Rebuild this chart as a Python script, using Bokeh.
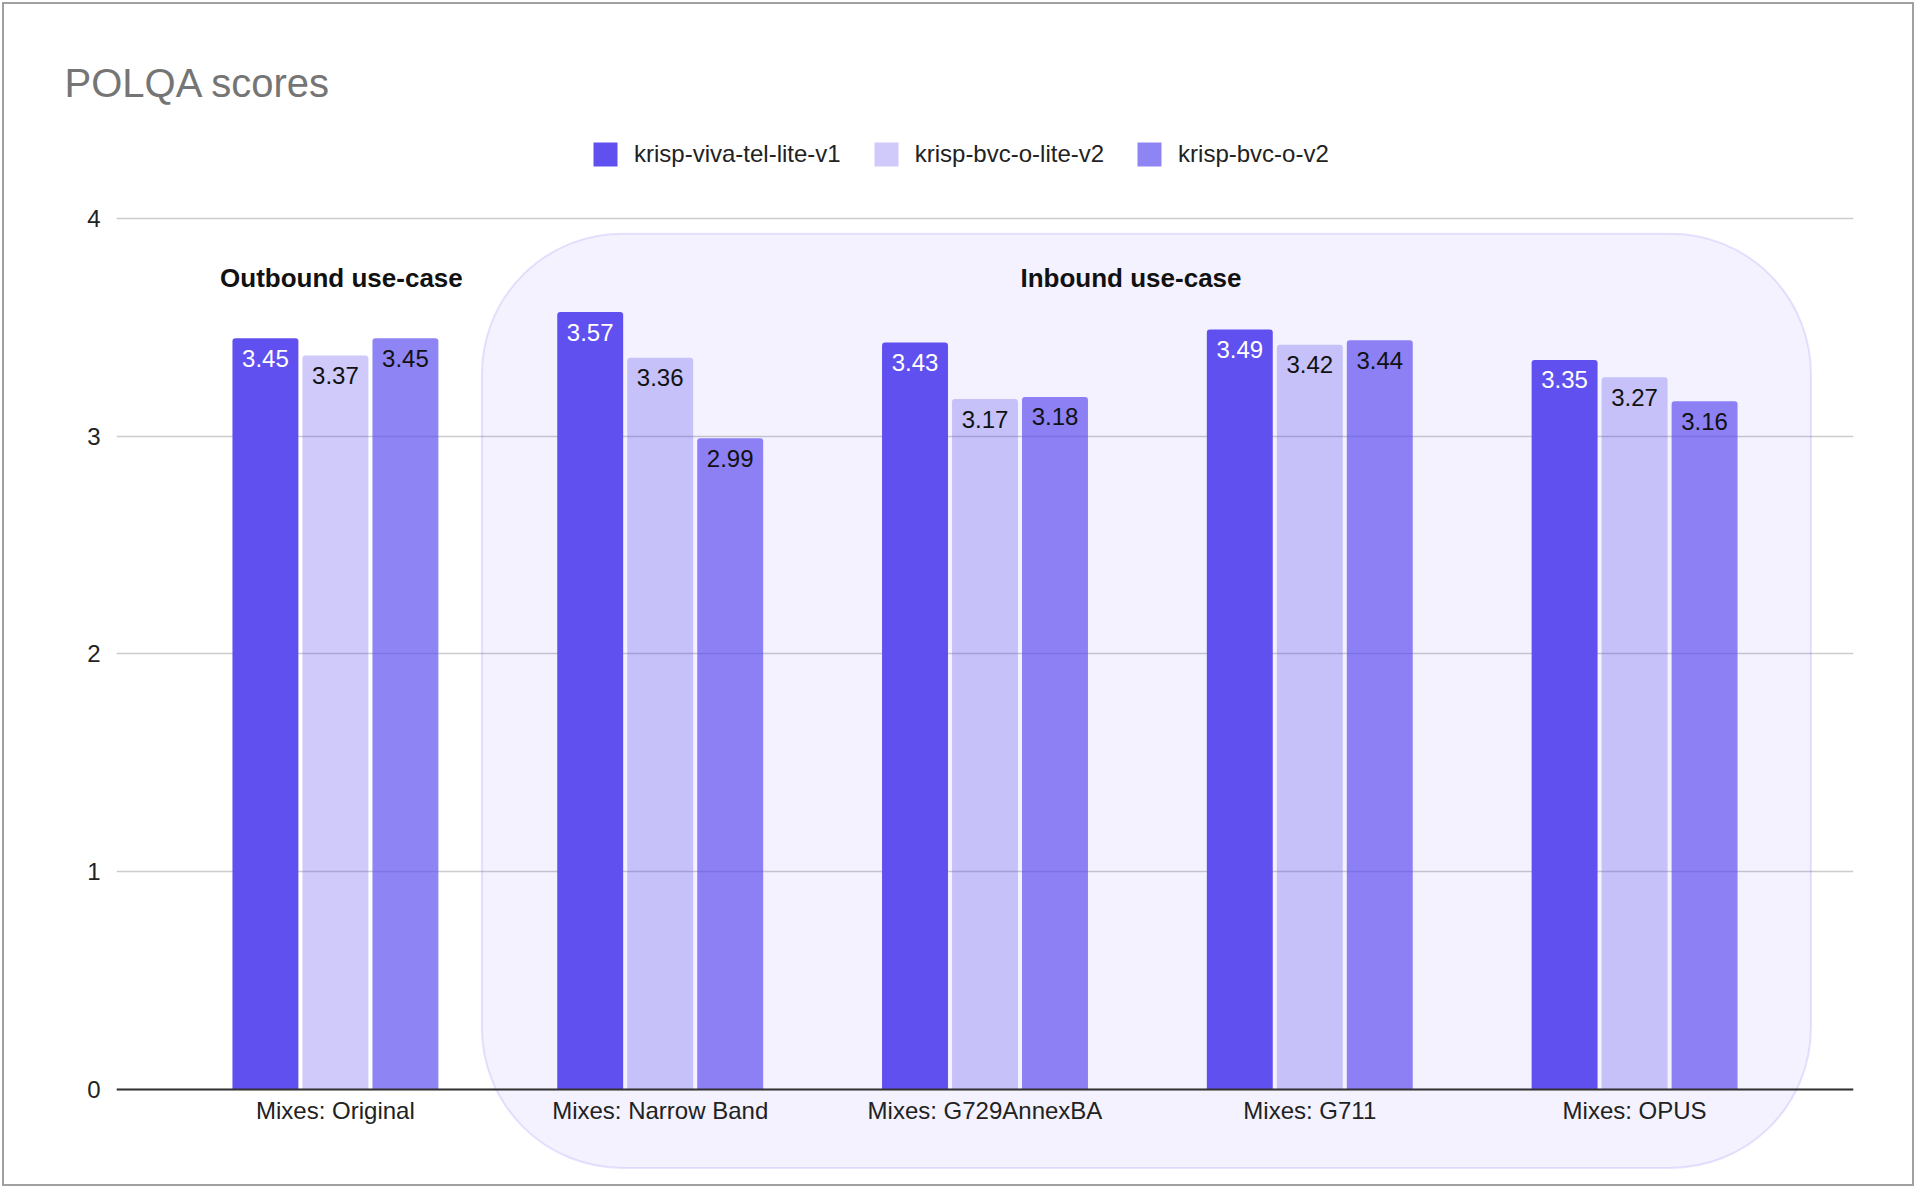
from bokeh.plotting import figure
from bokeh.models import ColumnDataSource, FactorRange, Range1d, FixedTicker, BoxAnnotation
from bokeh.transform import dodge
from bokeh.core.properties import value
from bokeh.embed import file_html
from bokeh.resources import INLINE

# ---------------- data ----------------
categories = ["Mixes: Original", "Mixes: Narrow Band", "Mixes: G729AnnexBA",
              "Mixes: G711", "Mixes: OPUS"]
series_names = ["krisp-viva-tel-lite-v1", "krisp-bvc-o-lite-v2", "krisp-bvc-o-v2"]
viva_tel_lite_v1 = [3.45, 3.57, 3.43, 3.49, 3.35]
bvc_o_lite_v2 = [3.37, 3.36, 3.17, 3.42, 3.27]
bvc_o_v2 = [3.45, 2.99, 3.18, 3.44, 3.16]
y_ticks = [0, 1, 2, 3, 4]
title_text = "POLQA scores"
group_labels = ["Outbound use-case", "Inbound use-case"]

# ---------------- style / layout ----------------
FONT = "Liberation Sans"
BASE = "#6050EF"
alphas = [1.0, 0.3, 0.7]
label_colors = ["#ffffff", "#111111", "#111111"]
offsets = [-0.2155, 0.0, 0.2155]
BAR_W = 0.203

W, H = 1916, 1188

src = ColumnDataSource(dict(
    cat=categories,
    s0=viva_tel_lite_v1, s1=bvc_o_lite_v2, s2=bvc_o_v2,
    l0=[f"{v:.2f}" for v in viva_tel_lite_v1],
    l1=[f"{v:.2f}" for v in bvc_o_lite_v2],
    l2=[f"{v:.2f}" for v in bvc_o_v2],
))

p = figure(width=W, height=H, output_backend="svg", toolbar_location=None,
           x_range=FactorRange(*categories, range_padding=0.174, range_padding_units="absolute"),
           y_range=Range1d(-0.4552, 4.5),
           min_border_left=116, min_border_right=63, min_border_top=109, min_border_bottom=0)
p.outline_line_color = None
p.background_fill_color = None
p.border_fill_color = None
p.styles = {"background-color": "#ffffff",
            "box-shadow": "inset 0 0 0 2px #ffffff, inset 0 0 0 4px #a0a0a0"}

# inbound highlight box
box = BoxAnnotation(left=0.951, right=5.043, top=3.929, bottom=-0.3605,
                    fill_color=BASE, fill_alpha=0.075,
                    line_color=BASE, line_alpha=0.15, line_width=2,
                    border_radius=140, level="underlay")
p.add_layout(box)

keys = ["s0", "s1", "s2"]
lkeys = ["l0", "l1", "l2"]
for i in range(3):
    p.vbar(x=dodge("cat", offsets[i], range=p.x_range), top=keys[i], width=BAR_W,
           source=src, fill_color=BASE, fill_alpha=alphas[i], line_color=None,
           border_radius=(3, 3, 0, 0), legend_label=series_names[i])
for i in range(3):
    p.text(x=dodge("cat", offsets[i], range=p.x_range), y=keys[i], text=lkeys[i],
           source=src, text_align="center", text_baseline="alphabetic", y_offset=20,
           text_font=value(FONT), text_font_size="24px", text_color=label_colors[i])

# group labels
p.text(x=[categories[0]], y=[3.728], text=[group_labels[0]], x_offset=6,
       text_align="center", text_baseline="alphabetic", text_font=value(FONT),
       text_font_size="26px", text_font_style="bold", text_color="#111111")
p.text(x=[categories[2]], y=[3.728], text=[group_labels[1]], x_offset=146,
       text_align="center", text_baseline="alphabetic", text_font=value(FONT),
       text_font_size="26px", text_font_style="bold", text_color="#111111")

# title
p.title.text = title_text
p.title.text_font = FONT
p.title.text_font_size = "40px"
p.title.text_font_style = "normal"
p.title.text_color = "#757575"
p.title.offset = -52

# axes
p.xaxis.fixed_location = 0
p.xaxis.axis_line_color = "#333333"
p.xaxis.axis_line_width = 2
p.xaxis.major_tick_line_color = None
p.xaxis.minor_tick_line_color = None
p.xaxis.major_tick_out = 0
p.xaxis.major_label_standoff = 8
p.xaxis.major_label_text_font = FONT
p.xaxis.major_label_text_font_size = "24px"
p.xaxis.major_label_text_color = "#222222"

p.yaxis.ticker = FixedTicker(ticks=y_ticks)
p.yaxis.axis_line_color = None
p.yaxis.major_tick_line_color = None
p.yaxis.minor_tick_line_color = None
p.yaxis.major_label_standoff = 10
p.yaxis.major_label_text_font = FONT
p.yaxis.major_label_text_font_size = "24px"
p.yaxis.major_label_text_color = "#222222"

p.xgrid.grid_line_color = None
p.ygrid.grid_line_color = "#cccccc"
p.ygrid.grid_line_width = 1.5

# legend
leg = p.legend[0]
leg.orientation = "horizontal"
leg.location = (474, 1019)
leg.glyph_width = 30
leg.glyph_height = 30
leg.label_standoff = 14
leg.spacing = 30
leg.padding = 0
leg.margin = 0
leg.border_line_color = None
leg.background_fill_alpha = 0
leg.label_text_font = FONT
leg.label_text_font_size = "24px"
leg.label_text_color = "#222222"

open("out.html", "w").write(file_html(p, INLINE))
